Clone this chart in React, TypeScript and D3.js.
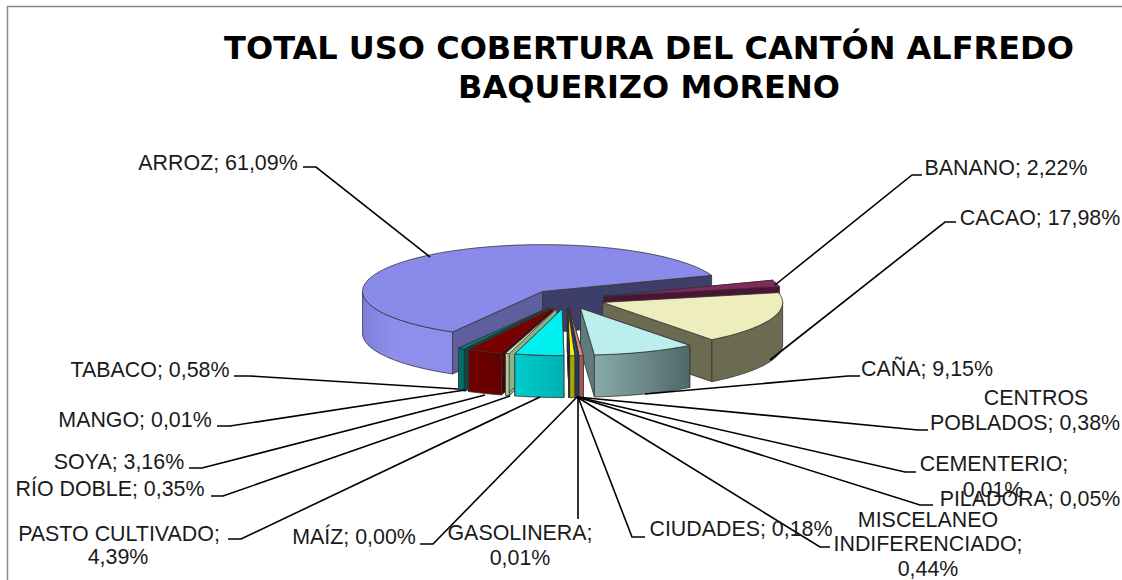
import React from "react";
import * as d3 from "d3";

const categories = ["ARROZ","BANANO","CACAO","CAÑA","CENTROS POBLADOS","CEMENTERIO","PILADORA","CIUDADES","MISCELANEO INDIFERENCIADO","GASOLINERA","MAÍZ","PASTO CULTIVADO","RÍO DOBLE","SOYA","MANGO","TABACO"];
const values = [61.09,2.22,17.98,9.15,0.38,0.01,0.05,0.18,0.44,0.01,0.0,4.39,0.35,3.16,0.01,0.58];
const tops = ["#8A8AEA","#86285E","#EDEDBE","#BDEEEE","#F08080","#5A1060","#700070","#0060C0","#F5F500","#C0C0F0","#000070","#00F0F0","#CDE8C0","#780000","#008078","#008078"];
const wallsL = ["#7E7EDA","#5A1A40","#6B6B52","#8AAAAA","#A85858","#401040","#500050","#004488","#B0B000","#9090B0","#000050","#00CCCC","#B0D0A8","#720000","#00746E","#00746E"];
const wallsR = ["#8E8EEC","#5A1A40","#6B6B52","#4F6868","#A85858","#401040","#500050","#004488","#A0A000","#9090B0","#000050","#00B0B0","#A0C098","#620000","#006860","#006860"];
const startFaces = ["#5F5F9F","#4A1535","#6B6B52","#5F7B7B","#A85858","#401040","#500050","#004488","#888800","#9090B0","#000050","#008F8F","#90B088","#4A0000","#004F4A","#004F4A"];
const endFaces = ["#3E3E6B","#4A1535","#6B6B52","#5F7B7B","#A85858","#401040","#500050","#004488","#888800","#9090B0","#000050","#009A9A","#90B088","#5A0000","#004F4A","#004F4A"];
const paintOrder = [0,1,2,15,14,13,12,11,3,4,5,6,7,8,9,10];

type Line = [string, number, number];
const labelLines: Line[][] = [
  [["ARROZ; 61,09%",218,170]],
  [["BANANO; 2,22%",1006,175]],
  [["CACAO; 17,98%",1040,225]],
  [["CAÑA; 9,15%",927,376]],
  [["CENTROS",1036,405],["POBLADOS; 0,38%",1025,430]],
  [["CEMENTERIO;",994,471],["0,01%",993,497]],
  [["PILADORA; 0,05%",1030,506]],
  [["CIUDADES; 0,18%",741,536]],
  [["MISCELANEO",928,527],["INDIFERENCIADO;",928,551],["0,44%",928,576]],
  [["GASOLINERA;",520,540],["0,01%",520,565]],
  [["MAÍZ; 0,00%",354,544]],
  [["PASTO CULTIVADO;",119,541],["4,39%",118,564]],
  [["RÍO DOBLE; 0,35%",110,496]],
  [["SOYA; 3,16%",119,469]],
  [["MANGO; 0,01%",135,427]],
  [["TABACO; 0,58%",150,377]],
];
const leaderAnchors: [number,number][] = [[430,257],[775,285],[770,360],[645,394],[577,397],[577,397],[577,397],[578,397],[577,397],[578,397],[577,397],[540,397],[510,396],[485,395],[465,390],[458,389]];
const leaderElbows: [number,number,number][] = [[316,167,303],[912,175,922],[945,222,956],[848,376,860],[918,430,928],[905,472,916],[920,505,933],[632,537,645],[820,547,830],[578,519,578],[433,544,420],[241,539,228],[223,496,211],[202,468,189],[230,426,217],[250,376,234]];

const W = 1122, H = 580;
const cx = 567, cy = 299, R = 180, squash = 0.26, explode = 38, depth = 42;
const startDeg = 210;

export default function App() {
  const pie = d3.pie<number>().sort(null).startAngle(startDeg*Math.PI/180).endAngle((startDeg+360)*Math.PI/180);
  const arcs = pie(values);
  const line = d3.line<[number,number]>();
  const pt = (ax:number, ay:number, a:number, r:number, h=0):[number,number] =>
    [ax + r*Math.sin(a), ay - r*Math.cos(a)*squash + h];
  const sample = (a0:number, a1:number) => {
    const n = Math.max(2, Math.ceil((a1-a0)/(Math.PI/90)));
    return d3.range(n+1).map(i => a0 + (a1-a0)*i/n);
  };
  const slices = arcs.map((arc,i) => {
    const mid = (arc.startAngle+arc.endAngle)/2;
    const [ax,ay] = pt(cx,cy,mid,explode);
    const a0 = arc.startAngle, a1 = arc.endAngle;
    const arcPts = sample(a0,a1).map(a => pt(ax,ay,a,R));
    const top = line([[ax,ay],...arcPts])+"Z";
    const face = (a:number) => line([[ax,ay],pt(ax,ay,a,R),pt(ax,ay,a,R,depth),[ax,ay+depth]])+"Z";
    const walls:string[] = [];
    [[Math.PI/2,3*Math.PI/2],[Math.PI/2+2*Math.PI,3*Math.PI/2+2*Math.PI]].forEach(([lo,hi])=>{
      const s=Math.max(a0,lo), e=Math.min(a1,hi);
      if(e>s){
        const as=sample(s,e);
        walls.push(line([...as.map(a=>pt(ax,ay,a,R)),...as.slice().reverse().map(a=>pt(ax,ay,a,R,depth))])+"Z");
      }
    });
    return {i,top,startFace:face(a0),endFace:face(a1),walls};
  });
  const outline = {stroke:"#333",strokeWidth:0.8,strokeLinejoin:"round" as const};
  return (
    <svg width={W} height={H} style={{position:"absolute",left:0,top:0,background:"#fff"}}>
      <defs>
        {categories.map((_,i)=>(
          <linearGradient key={i} id={`w${i}`} x1="0" x2="1" y1="0" y2="0">
            <stop offset="0" stopColor={wallsL[i]}/>
            <stop offset={i===0?"0.35":"1"} stopColor={wallsR[i]}/>
          </linearGradient>
        ))}
      </defs>
      <path d={`M7.5 ${H}V6.5H${W}`} fill="none" stroke="#888" strokeWidth={1.5}/>
      <g fontFamily="'DejaVu Sans'" fontWeight="bold" fontSize={32} textAnchor="middle" fill="#000">
        <text x={649} y={59}>TOTAL USO COBERTURA DEL CANTÓN ALFREDO</text>
        <text x={649} y={98}>BAQUERIZO MORENO</text>
      </g>
      {paintOrder.map(k=>{
        const s=slices[k];
        return (
          <g key={k} {...outline}>
            <path d={s.startFace} fill={startFaces[k]}/>
            <path d={s.endFace} fill={endFaces[k]}/>
            {s.walls.map((d,j)=><path key={j} d={d} fill={`url(#w${k})`}/>)}
            <path d={s.top} fill={tops[k]}/>
          </g>
        );
      })}
      <g fill="none" stroke="#000" strokeWidth={1.6}>
        {leaderAnchors.map((a,i)=>{
          const [ex,ey,tx]=leaderElbows[i];
          return <path key={i} d={line([a,[ex,ey],[tx,ey]])!}/>;
        })}
      </g>
      <g fontFamily="'Liberation Sans'" fontSize={21.4} textAnchor="middle" fill="#1a1a1a">
        {labelLines.flat().map(([t,x,y],i)=><text key={i} x={x} y={y}>{t}</text>)}
      </g>
    </svg>
  );
}
